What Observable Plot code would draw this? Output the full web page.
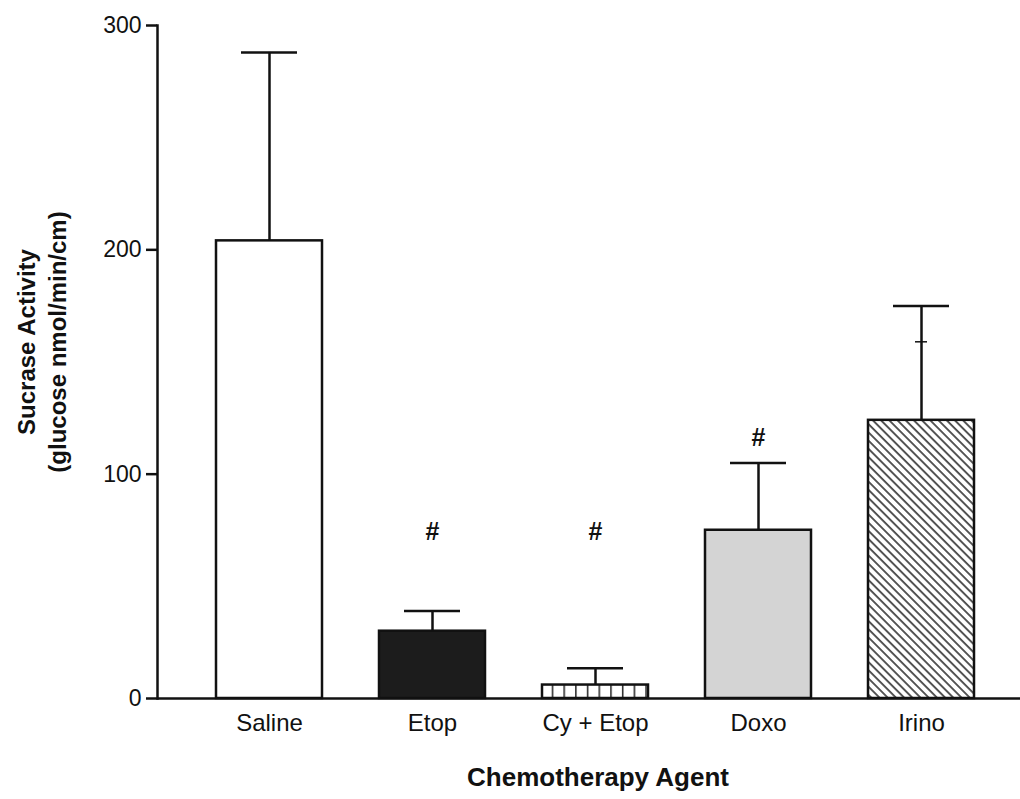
<!DOCTYPE html>
<html>
<head>
<meta charset="utf-8">
<script src="https://cdn.jsdelivr.net/npm/d3@7"></script>
<script src="https://cdn.jsdelivr.net/npm/@observablehq/plot@0.6"></script>
<style>
  html, body { margin: 0; padding: 0; background: #fff; }
  svg { display: block; }
</style>
</head>
<body>
<div id="chart"></div>
<script>
// ---- data ----
const categories = ["Saline", "Etop", "Cy + Etop", "Doxo", "Irino"];
const means      = [204, 30, 6, 75, 124];
const upperErr   = [288, 39, 13.5, 105, 175];
const significant = ["Etop", "Cy + Etop", "Doxo"];
const hashY      = [74, 74, 116];
const extraTickCat = ["Irino"];
const extraTickY   = [159];
const yTicks = [0, 100, 200, 300];
const xTitle = "Chemotherapy Agent";
const yTitle = "Sucrase Activity\n(glucose nmol/min/cm)";

// ---- styles ----
const fills = ["#ffffff", "#1c1c1c", "url(#bricks)", "#d4d4d4", "url(#hatch)"];
const FONT = "'Liberation Sans', Arial, Helvetica, sans-serif";
const SW = 2.5;

const data = categories.map((c, i) => ({cat: c, mean: means[i], upper: upperErr[i], fill: fills[i]}));
const hashes = significant.map((c, i) => ({cat: c, y: hashY[i]}));
const extra = extraTickCat.map((c, i) => ({cat: c, y: extraTickY[i]}));

const plot = Plot.plot({
  width: 1020,
  height: 799,
  marginLeft: 157,
  marginRight: 0,
  marginTop: 25,
  marginBottom: 101,
  style: {fontFamily: FONT, color: "#111", background: "#fff"},
  x: {type: "band", domain: categories, range: [157, 1033], paddingInner: 0.35, paddingOuter: 0.362},
  y: {domain: [0, 300]},
  marks: [
    ...data.map(d => Plot.barY([d], {x: "cat", y: "mean", fill: d.fill, stroke: "#111", strokeWidth: SW})),
    Plot.ruleX(data, {x: "cat", y1: "mean", y2: "upper", stroke: "#111", strokeWidth: SW}),
    Plot.tickY(data, {x: "cat", y: "upper", stroke: "#111", strokeWidth: SW, insetLeft: 25, insetRight: 25}),
    Plot.tickY(extra, {x: "cat", y: "y", stroke: "#111", strokeWidth: 1.5, insetLeft: 47, insetRight: 47}),
    Plot.text(hashes, {x: "cat", y: "y", text: () => "#", fontSize: 25, fontWeight: "bold", fill: "#111"}),
    Plot.ruleY([0], {stroke: "#111", strokeWidth: SW}),
    Plot.frame({anchor: "left", stroke: "#111", strokeWidth: SW}),
    Plot.axisY({ticks: yTicks, tickSize: 11, tickPadding: 5, fontSize: 23, label: null, strokeWidth: SW}),
    Plot.axisX({tickSize: 0, tickPadding: 15, fontSize: 24, label: null}),
    Plot.text([xTitle], {frameAnchor: "bottom", dx: 9, dy: 87, fontSize: 26, fontWeight: "bold", fill: "#111"}),
    Plot.text([yTitle], {frameAnchor: "left", textAnchor: "middle", dx: -117, dy: -20, rotate: -90, fontSize: 24, fontWeight: "bold", lineHeight: 1.3, lineAnchor: "middle", fill: "#111"})
  ]
});

const defs = d3.select(plot).insert("defs", ":first-child");
const hatch = defs.append("pattern").attr("id", "hatch").attr("patternUnits", "userSpaceOnUse")
  .attr("width", 5.8).attr("height", 10).attr("patternTransform", "rotate(-45)");
hatch.append("rect").attr("width", 5.8).attr("height", 10).attr("fill", "#fff");
hatch.append("line").attr("x1", 1).attr("x2", 1).attr("y1", 0).attr("y2", 10).attr("stroke", "#111").attr("stroke-width", 1.4);
const bricks = defs.append("pattern").attr("id", "bricks").attr("patternUnits", "userSpaceOnUse")
  .attr("width", 11.7).attr("height", 20).attr("x", 540);
bricks.append("rect").attr("width", 11.7).attr("height", 20).attr("fill", "#fff");
bricks.append("line").attr("x1", 0.8).attr("x2", 0.8).attr("y1", 0).attr("y2", 20).attr("stroke", "#111").attr("stroke-width", 1.4);

document.getElementById("chart").appendChild(plot);
</script>
</body>
</html>
